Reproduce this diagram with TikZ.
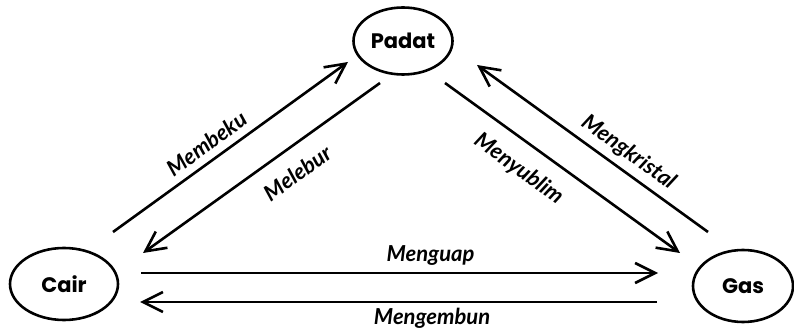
\documentclass[tikz,border=0pt]{standalone}
\usepackage{fontspec}
\setmainfont{Poppins}
\newfontfamily\handfont{Lato}
\usetikzlibrary{shapes.geometric,arrows.meta,positioning}

\begin{document}
\begin{tikzpicture}[
    x=1pt, y=-1pt,
    phase/.style={ellipse, draw, line width=2.6pt, inner sep=0pt, minimum width=100pt, minimum height=72pt, font=\bfseries\fontsize{21}{21}\selectfont},
    arrow/.style={line width=2.6pt, -{Straight Barb[length=20pt,width=20pt]}},
    lbl/.style={font=\handfont\bfseries\itshape\fontsize{22}{22}\selectfont}
]
    \useasboundingbox (0,0) rectangle (794,336);

    \node[phase, minimum width=99pt, minimum height=67pt] (padat) at (403,41) {Padat};
    \node[phase, minimum width=108pt, on grid, below left=243pt and 339pt of padat] (cair) {Cair};
    \node[phase, on grid, below right=245pt and 340pt of padat] (gas) {Gas};

    \draw[arrow] ([shift={(49,-52)}]cair.center) -- node[lbl, sloped, above=4pt, pos=0.44] {Membeku} ([shift={(-55,21)}]padat.center);
    \draw[arrow] ([shift={(-23,42)}]padat.center) -- node[lbl, sloped, below=12pt, pos=0.41] {Melebur} ([shift={(79,-31)}]cair.center);
    \draw[arrow] ([shift={(42,42)}]padat.center) -- node[lbl, sloped, below=12pt, pos=0.38] {Menyublim} ([shift={(-63,-33)}]gas.center);
    \draw[arrow] ([shift={(-35,-54)}]gas.center) -- node[lbl, sloped, above=3pt, pos=0.39] {Mengkristal} ([shift={(74,24)}]padat.center);
    \draw[arrow] ([shift={(77,-11)}]cair.center) -- node[lbl, above=3pt, pos=0.56] {Menguap} ([shift={(-85,-13)}]gas.center);
    \draw[arrow] ([shift={(-86,16)}]gas.center) -- node[lbl, below=2pt, pos=0.435] {Mengembun} ([shift={(76,18)}]cair.center);
\end{tikzpicture}
\end{document}
